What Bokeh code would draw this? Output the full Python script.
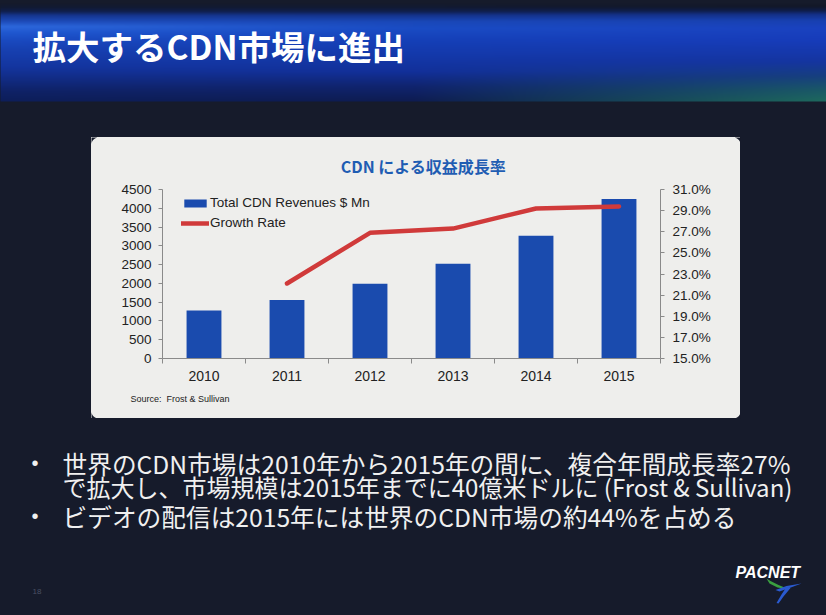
import math
import numpy as np
from bokeh.plotting import figure
from bokeh.layouts import column, row
from bokeh.models import (Range1d, LinearAxis, FixedTicker, PrintfTickFormatter,
                          Legend, LegendItem)
from bokeh.core.properties import value
from bokeh.embed import file_html
from bokeh.resources import INLINE

# ---------------- data ----------------
years = ["2010", "2011", "2012", "2013", "2014", "2015"]
revenue_mn = [1280, 1560, 1990, 2520, 3270, 4250]
growth_years = ["2011", "2012", "2013", "2014", "2015"]
growth_rate_pct = [22.1, 26.9, 27.3, 29.2, 29.4]
revenue_ticks = [0, 500, 1000, 1500, 2000, 2500, 3000, 3500, 4000, 4500]
rate_ticks = [15, 17, 19, 21, 23, 25, 27, 29, 31]

slide_title = "拡大するCDN市場に進出"
chart_title = "CDN による収益成長率"
legend_labels = ["Total CDN Revenues $ Mn", "Growth Rate"]
source_text = "Source:\u00a0 Frost & Sullivan"
bullet_lines = [
    "世界のCDN市場は2010年から2015年の間に、複合年間成長率27%",
    "で拡大し、市場規模は2015年までに40億米ドルに (Frost & Sullivan)",
    "ビデオの配信は2015年には世界のCDN市場の約44%を占める",
]
page_number = "18"
logo_text = "PACNET"

# ---------------- styling ----------------
PANEL = "#eeeeec"
DARK = "#161b2b"
BLUE = "#1a4bae"
RED = "#d03a3a"
AXIS = "#8a8a8a"
TXT = "#222222"
JP = "Noto Sans CJK JP"
LAT = "Liberation Sans"

PAGE_W, PAGE_H = 826, 615
PL, PR, PT, PB = 91, 740, 137, 418       # light chart panel
CT, CB = 181, 392                         # chart figure top/bottom
FL, FR, FT, FB = 162, 660, 189, 358       # chart frame


def deco(x0, y0, w, h):
    # transparent figure: the slide colours come from the layout background
    return figure(width=w, height=h, x_range=Range1d(x0, x0 + w), y_range=Range1d(y0 + h, y0),
                  x_axis_type=None, y_axis_type=None, min_border=0, title=None,
                  toolbar_location=None, output_backend="svg", outline_line_color=None,
                  background_fill_alpha=0, border_fill_alpha=0)


def txt(f, x, y, s, size, color, font=LAT, style="normal", align="left"):
    f.text(x=[x], y=[y], text=[s], text_font=value(font), text_font_size=size,
           text_color=color, text_font_style=style, text_align=align,
           text_baseline="middle")


def corner_masks(f, corners, r=7):
    xs_all, ys_all = [], []
    for (cx0, cy0, sx, sy) in corners:
        xs, ys = [cx0], [cy0]
        ccx, ccy = cx0 + sx * r, cy0 + sy * r
        for k in range(10):
            a = math.pi / 2 * k / 9
            xs.append(ccx - sx * r * math.cos(a))
            ys.append(ccy - sy * r * math.sin(a))
        xs_all.append(xs)
        ys_all.append(ys)
    f.patches(xs=xs_all, ys=ys_all, fill_color=DARK, line_color=None)


# ---------------- top: banner + panel top ----------------
top = deco(0, 0, PAGE_W, CT)

def h2r(h):
    h = h.lstrip("#")
    return [int(h[i:i + 2], 16) for i in (0, 2, 4)]

def prof(stops, ys):
    yy = [s[0] for s in stops]
    cols = np.array([h2r(s[1]) for s in stops], dtype=float)
    return np.stack([np.interp(ys, yy, cols[:, k]) for k in range(3)], axis=1)

left_p = [(0, "#0d1e5a"), (10, "#0f2266"), (20, "#112a7e"), (35, "#1436a0"), (50, "#1740b0"),
          (60, "#1a4ac0"), (68, "#2058d0"), (74, "#2d68dc"), (79, "#1e4cba"), (85, "#163690"),
          (89, "#10204e"), (93, "#121a34"), (97, DARK), (101, DARK)]
mid_p = [(0, "#0e1c50"), (15, "#10246e"), (30, "#12309a"), (60, "#1540b8"), (72, "#1a4cc4"),
         (79, "#1a48b8"), (85, "#15348e"), (89, "#10204e"), (93, "#121a34"), (97, DARK),
         (101, DARK)]
right_p = [(0, "#1e6a5e"), (12, "#1a5868"), (25, "#17407e"), (40, "#1535a0"), (60, "#173cba"),
           (72, "#1a42c0"), (80, "#1840b0"), (86, "#143088"), (90, "#0f1d48"), (94, "#131828"),
           (97, DARK), (101, DARK)]
BH = 101
rows_y = np.arange(BH) + 0.5
A, B, C = prof(left_p, rows_y), prof(mid_p, rows_y), prof(right_p, rows_y)
t = (np.arange(PAGE_W) + 0.5) / PAGE_W
img = np.zeros((BH, PAGE_W, 3))
for k in range(3):
    lh = A[:, k:k + 1] + (B[:, k:k + 1] - A[:, k:k + 1]) * np.clip(t / 0.5, 0, 1)[None, :]
    rh = B[:, k:k + 1] + (C[:, k:k + 1] - B[:, k:k + 1]) * np.clip((t - 0.5) / 0.5, 0, 1)[None, :]
    img[:, :, k] = np.where(t[None, :] < 0.5, lh, rh)
img = img[::-1]          # image rows are drawn bottom-up
rgba = np.empty((BH, PAGE_W), dtype=np.uint32)
view = rgba.view(dtype=np.uint8).reshape((BH, PAGE_W, 4))
for k in range(3):
    view[:, :, k] = img[:, :, k].astype(np.uint8)
view[:, :, 3] = 255
top.image_rgba(image=[rgba], x=-1, y=-1, dw=PAGE_W + 2, dh=BH + 1)
txt(top, 32, 45, slide_title, "33.5px", "#ffffff", font=JP, style="bold")
corner_masks(top, [(PL, PT, 1, 1), (PR, PT, -1, 1)])
txt(top, 423, 165, chart_title, "16px", "#1f5db3", font=JP, style="bold", align="center")

# ---------------- middle: fillers + chart ----------------
left_fill = deco(0, CT, PL, CB - CT)
right_fill = deco(PR, CT, PAGE_W - PR, CB - CT)

centres = [i + 0.5 for i in range(len(years))]
growth_centres = [years.index(y) + 0.5 for y in growth_years]

p = figure(width=PR - PL, height=CB - CT, output_backend="svg", toolbar_location=None,
           title=None,
           x_range=Range1d(0, len(years)),
           y_range=Range1d(revenue_ticks[0], revenue_ticks[-1]),
           min_border_left=FL - PL, min_border_right=PR - FR,
           min_border_top=FT - CT, min_border_bottom=CB - FB,
           background_fill_alpha=0, border_fill_alpha=0,
           outline_line_color=None)
p.grid.visible = False
p.extra_y_ranges = {"rate": Range1d(rate_ticks[0], rate_ticks[-1])}


def style_axis(ax, size="13.5px", standoff=7):
    ax.axis_line_color = AXIS
    ax.major_tick_line_color = AXIS
    ax.minor_tick_line_color = AXIS
    ax.major_tick_in = 0
    ax.major_tick_out = 4
    ax.minor_tick_in = 0
    ax.minor_tick_out = 0
    ax.major_label_text_font = LAT
    ax.major_label_text_font_size = size
    ax.major_label_text_color = TXT
    ax.major_label_standoff = standoff


ly = p.yaxis[0]
ly.ticker = FixedTicker(ticks=revenue_ticks)
style_axis(ly)

ry = LinearAxis(y_range_name="rate", ticker=FixedTicker(ticks=rate_ticks),
                formatter=PrintfTickFormatter(format="%.1f%%"))
style_axis(ry, standoff=8)
p.add_layout(ry, "right")

bx = p.xaxis[0]
bx.ticker = FixedTicker(ticks=centres, minor_ticks=list(range(len(years) + 1)))
style_axis(bx, size="14px", standoff=7)
bx.major_tick_out = 0
bx.minor_tick_out = 5
bx.major_label_overrides = {c: y for c, y in zip(centres, years)}

bars = p.vbar(x=centres, top=revenue_mn, bottom=0, width=0.42,
              fill_color=BLUE, line_color=None)
line = p.line(x=growth_centres, y=growth_rate_pct, y_range_name="rate",
              line_color=RED, line_width=4.5, line_cap="round", line_join="round")

legend = Legend(items=[LegendItem(label=legend_labels[0], renderers=[bars]),
                       LegendItem(label=legend_labels[1], renderers=[line])],
                location=(19, 128), orientation="vertical",
                background_fill_alpha=0, border_line_color=None,
                label_text_font=LAT, label_text_font_size="13.5px",
                label_text_color=TXT, glyph_width=28, glyph_height=10,
                label_height=14, spacing=5, padding=0, margin=0, label_standoff=1)
p.add_layout(legend)

# ---------------- bottom: panel bottom + bullets ----------------
bottom = deco(0, CB, PAGE_W, PAGE_H - CB)
corner_masks(bottom, [(PL, PB, 1, -1), (PR, PB, -1, -1)])
txt(bottom, 130, 398, source_text, "9px", TXT)
bullet_y = [462, 486, 515]
bullet_size = ["24.7px", "24px", "24.7px"]
for s, yy, sz in zip(bullet_lines, bullet_y, bullet_size):
    txt(bottom, 62, yy, s, sz, "#f0f0f0", font=JP)
txt(bottom, 31, 462, "•", "20px", "#f0f0f0")
txt(bottom, 31, 515, "•", "20px", "#f0f0f0")
txt(bottom, 32, 591, page_number, "8px", "#4a5063")
txt(bottom, 735, 572, logo_text, "16px", "#ffffff", style="bold italic")
bottom.patches(
    xs=[[766, 769, 777, 789, 778, 770], [775, 786, 801, 789, 779],
        [786, 790, 783, 778, 776, 781]],
    ys=[[578, 583, 587, 589, 584.5, 580.5], [589.5, 585.5, 583, 587.5, 591],
        [586.5, 587.5, 596, 603, 602.5, 594]],
    fill_color=["#3aa040", "#2a5ad0", "#2a5ad0"], line_color=None)

# slide background painted by the layout: dark page with the light chart panel
band = ("linear-gradient(to right, %s %dpx, %s %dpx, %s %dpx, %s %dpx)"
        % (DARK, PL, PANEL, PL, PANEL, PR, DARK, PR))
page_bg = "%s 0px %dpx / 100%% %dpx no-repeat, %s" % (band, PT, PB - PT, DARK)
mid = row(left_fill, p, right_fill, spacing=0, styles={"background": band})
layout = column(top, mid, bottom, spacing=0, styles={"background": page_bg})

open("out.html", "w").write(file_html(layout, INLINE))
